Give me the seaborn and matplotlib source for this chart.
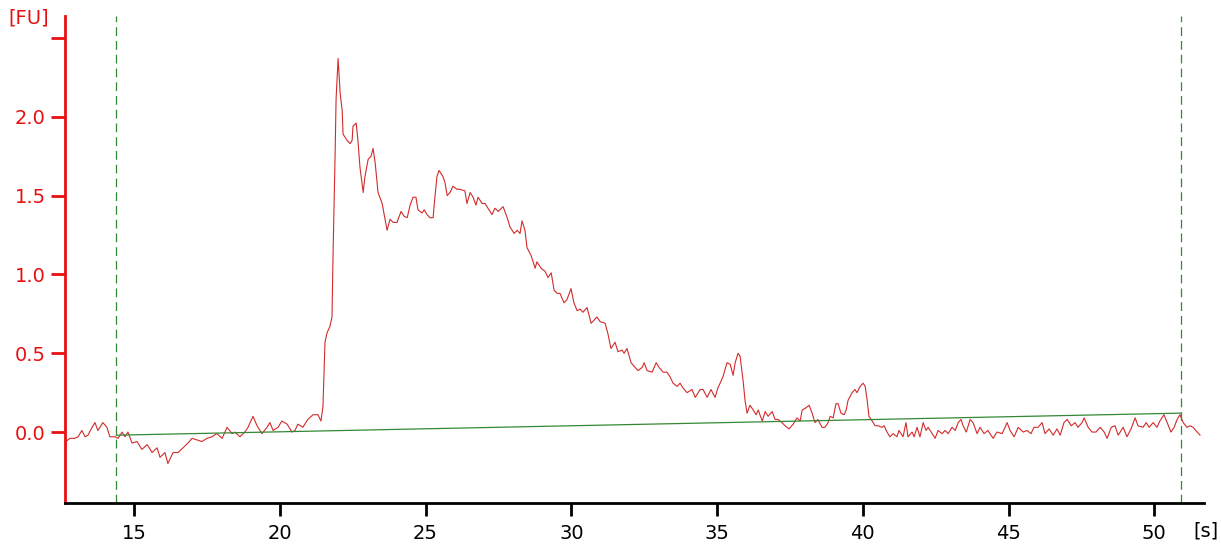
import numpy as np
import pandas as pd
import seaborn as sns
from matplotlib import pyplot as plt

# electropherogram trace
time_s = [
    12.66, 12.80, 12.97, 13.08, 13.21, 13.32, 13.42, 13.56, 13.66, 13.76,
    13.93, 14.07, 14.17, 14.35, 14.45, 14.59, 14.69, 14.79, 14.93, 15.10,
    15.27, 15.45, 15.62, 15.79, 15.89, 16.06, 16.16, 16.34, 16.51, 16.68,
    16.85, 16.99, 17.16, 17.33, 17.50, 17.67, 17.84, 18.02, 18.19, 18.36,
    18.46, 18.63, 18.80, 18.91, 19.08, 19.22, 19.39, 19.56, 19.66, 19.77,
    19.94, 20.07, 20.25, 20.42, 20.52, 20.62, 20.79, 20.96, 21.14, 21.31,
    21.41, 21.48, 21.55, 21.62, 21.72, 21.79, 21.83, 21.90, 21.93, 22.00,
    22.07, 22.14, 22.17, 22.31, 22.41, 22.48, 22.51, 22.62, 22.68, 22.75,
    22.82, 22.86, 22.92, 23.03, 23.13, 23.20, 23.27, 23.37, 23.51, 23.61,
    23.68, 23.78, 23.89, 24.02, 24.16, 24.26, 24.37, 24.47, 24.57, 24.67,
    24.74, 24.88, 24.95, 25.05, 25.15, 25.26, 25.29, 25.39, 25.46, 25.60,
    25.67, 25.74, 25.84, 25.94, 26.08, 26.18, 26.35, 26.42, 26.53, 26.63,
    26.73, 26.80, 26.94, 27.04, 27.14, 27.28, 27.38, 27.49, 27.66, 27.80,
    27.90, 28.04, 28.14, 28.24, 28.31, 28.41, 28.48, 28.62, 28.76, 28.82,
    28.96, 29.10, 29.20, 29.31, 29.41, 29.51, 29.61, 29.75, 29.85, 29.99,
    30.09, 30.20, 30.30, 30.40, 30.54, 30.68, 30.88, 30.99, 31.16, 31.26,
    31.36, 31.50, 31.60, 31.74, 31.81, 31.91, 32.05, 32.19, 32.29, 32.43,
    32.50, 32.60, 32.77, 32.91, 33.01, 33.15, 33.28, 33.39, 33.49, 33.63,
    33.73, 33.83, 33.97, 34.14, 34.25, 34.42, 34.52, 34.66, 34.79, 34.93,
    35.03, 35.20, 35.34, 35.45, 35.55, 35.62, 35.72, 35.79, 35.89, 35.96,
    36.03, 36.13, 36.24, 36.34, 36.41, 36.55, 36.65, 36.75, 36.89, 36.99,
    37.09, 37.23, 37.33, 37.47, 37.61, 37.74, 37.85, 37.92, 38.02, 38.09,
    38.16, 38.26, 38.36, 38.46, 38.60, 38.70, 38.81, 38.88, 38.98, 39.08,
    39.15, 39.25, 39.36, 39.43, 39.49, 39.63, 39.73, 39.80, 39.91, 40.01,
    40.08, 40.15, 40.21, 40.32, 40.42, 40.52, 40.66, 40.73, 40.83, 40.93,
    41.04, 41.17, 41.24, 41.38, 41.48, 41.55, 41.69, 41.76, 41.86, 41.96,
    42.07, 42.17, 42.24, 42.38, 42.48, 42.58, 42.72, 42.82, 42.93, 43.06,
    43.17, 43.27, 43.37, 43.44, 43.55, 43.68, 43.78, 43.92, 44.02, 44.16,
    44.29, 44.47, 44.60, 44.78, 44.95, 45.05, 45.19, 45.33, 45.50, 45.63,
    45.77, 45.87, 46.01, 46.15, 46.25, 46.39, 46.53, 46.66, 46.77, 46.90,
    47.01, 47.15, 47.28, 47.38, 47.52, 47.59, 47.73, 47.86, 48.00, 48.14,
    48.28, 48.38, 48.52, 48.65, 48.76, 48.93, 49.06, 49.20, 49.34, 49.44,
    49.61, 49.72, 49.82, 49.96, 50.09, 50.19, 50.33, 50.44, 50.57, 50.68,
    50.78, 50.88, 50.99, 51.12, 51.23, 51.33, 51.47, 51.57,
]
fu = [
    -0.06, -0.04, -0.04, -0.03, 0.01, -0.03, -0.02, 0.03, 0.06, 0.01,
    0.06, 0.03, -0.03, -0.03, -0.04, 0.00, -0.03, 0.00, -0.07, -0.06,
    -0.11, -0.08, -0.13, -0.10, -0.16, -0.13, -0.20, -0.13, -0.13, -0.10,
    -0.07, -0.04, -0.05, -0.06, -0.04, -0.03, -0.01, -0.04, 0.03, -0.01,
    0.00, -0.03, 0.00, 0.03, 0.10, 0.04, -0.01, 0.03, 0.06, 0.01,
    0.03, 0.07, 0.05, 0.00, 0.01, 0.05, 0.03, 0.08, 0.11, 0.11,
    0.07, 0.16, 0.57, 0.63, 0.67, 0.73, 1.16, 1.79, 2.11, 2.37,
    2.15, 2.04, 1.89, 1.85, 1.83, 1.85, 1.94, 1.96, 1.85, 1.68,
    1.58, 1.52, 1.62, 1.73, 1.75, 1.80, 1.71, 1.52, 1.45, 1.35,
    1.28, 1.35, 1.33, 1.33, 1.40, 1.37, 1.36, 1.44, 1.49, 1.49,
    1.41, 1.39, 1.41, 1.38, 1.36, 1.36, 1.43, 1.62, 1.66, 1.62,
    1.58, 1.50, 1.52, 1.56, 1.54, 1.54, 1.53, 1.45, 1.52, 1.49,
    1.44, 1.49, 1.45, 1.45, 1.42, 1.38, 1.42, 1.40, 1.43, 1.36,
    1.30, 1.26, 1.28, 1.26, 1.34, 1.28, 1.17, 1.12, 1.04, 1.08,
    1.04, 1.02, 0.98, 1.01, 0.90, 0.88, 0.88, 0.82, 0.84, 0.91,
    0.82, 0.77, 0.78, 0.76, 0.79, 0.69, 0.73, 0.70, 0.69, 0.62,
    0.53, 0.57, 0.51, 0.52, 0.50, 0.53, 0.44, 0.41, 0.39, 0.41,
    0.44, 0.39, 0.38, 0.44, 0.41, 0.38, 0.38, 0.35, 0.31, 0.29,
    0.31, 0.28, 0.25, 0.27, 0.22, 0.27, 0.27, 0.22, 0.27, 0.22,
    0.28, 0.35, 0.44, 0.43, 0.36, 0.44, 0.50, 0.48, 0.33, 0.20,
    0.12, 0.17, 0.14, 0.11, 0.14, 0.07, 0.13, 0.10, 0.13, 0.08,
    0.08, 0.06, 0.04, 0.02, 0.05, 0.09, 0.07, 0.14, 0.15, 0.16,
    0.17, 0.12, 0.06, 0.08, 0.03, 0.03, 0.06, 0.10, 0.09, 0.18,
    0.18, 0.12, 0.11, 0.14, 0.20, 0.25, 0.27, 0.25, 0.29, 0.31,
    0.29, 0.20, 0.10, 0.07, 0.04, 0.04, 0.03, 0.04, 0.00, -0.03,
    -0.01, -0.03, 0.01, -0.03, 0.06, -0.03, 0.00, -0.03, 0.03, -0.03,
    0.06, 0.01, 0.03, -0.01, -0.04, 0.01, -0.01, 0.01, -0.01, 0.03,
    0.01, 0.06, 0.08, 0.04, 0.00, 0.08, 0.06, -0.01, 0.03, -0.01,
    0.01, -0.04, 0.00, -0.01, 0.06, 0.01, -0.03, 0.03, 0.00, 0.01,
    -0.01, 0.03, 0.03, 0.06, -0.01, 0.02, -0.02, 0.02, -0.02, 0.06,
    0.08, 0.04, 0.06, 0.03, 0.06, 0.09, 0.03, 0.00, 0.00, 0.03,
    0.00, -0.04, 0.03, 0.04, -0.02, 0.03, -0.03, 0.02, 0.09, 0.04,
    0.03, 0.06, 0.03, 0.06, 0.03, 0.07, 0.11, 0.06, 0.00, 0.03,
    0.08, 0.11, 0.06, 0.03, 0.04, 0.03, 0.00, -0.02,
]

# baseline and the two marker positions
baseline_t = [14.38, 50.92]
baseline_fu = [-0.02, 0.12]
marker_t = [14.38, 50.92]

y_ticks = [0.0, 0.5, 1.0, 1.5, 2.0, 2.5]
y_labels = ["0.0", "0.5", "1.0", "1.5", "2.0", ""]
x_ticks = [15, 20, 25, 30, 35, 40, 45, 50]

sns.set_style("white")
plt.rcParams['font.family'] = ['DejaVu Sans']

trace = pd.DataFrame({"t": time_s, "fu": fu})

fig = plt.figure(figsize=(12.21, 5.5), dpi=100)
ax = fig.add_axes([0.0532, 0.0855, 0.9328, 0.8855])

sns.lineplot(data=trace, x="t", y="fu", ax=ax, color="#d22b2b",
             linewidth=0.8, estimator=None, sort=False)
sns.lineplot(x=baseline_t, y=baseline_fu, ax=ax, color="#338833",
             linewidth=0.9, estimator=None)
for t in marker_t:
    ax.axvline(t, color="#338833", linewidth=0.9, linestyle=(0, (7, 4)))

ax.set_xlim(12.63, 51.70)
ax.set_ylim(-0.45, 2.64)
ax.set_xticks(x_ticks)
ax.set_yticks(y_ticks)
ax.set_yticklabels(y_labels)
ax.set_xlabel("")
ax.set_ylabel("")

for side in ["top", "right"]:
    ax.spines[side].set_visible(False)
ax.spines["left"].set_color("#e81010")
ax.spines["left"].set_linewidth(2)
ax.spines["bottom"].set_color("black")
ax.spines["bottom"].set_linewidth(2)

ax.tick_params(axis="y", colors="#e81010", labelsize=14, length=10,
               width=2, direction="out", pad=4, left=True)
ax.tick_params(axis="x", colors="black", labelsize=14, length=9,
               width=2, direction="out", pad=6, bottom=True)

fig.text(8 / 1221, 1 - 18 / 550, "[FU]", color="#e81010", fontsize=14,
         va="center", ha="left")
fig.text(1193 / 1221, 1 - 531 / 550, "[s]", color="black", fontsize=14,
         va="center", ha="left")

fig.savefig("out.png", dpi=100)
